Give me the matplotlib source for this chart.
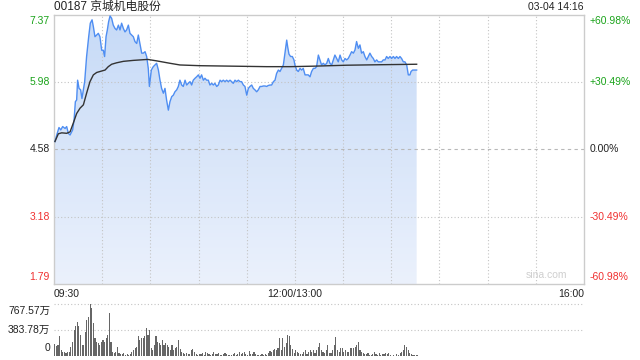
import numpy as np
import matplotlib

matplotlib.use("Agg")
import matplotlib.pyplot as plt
from matplotlib.colors import LinearSegmentedColormap
from matplotlib.transforms import offset_copy

plt.rcParams["font.family"] = ["Liberation Sans", "Noto Sans CJK SC", "DejaVu Sans"]

TITLE = "00187 京城机电股份"
STAMP = "03-04 14:16"
PREV_CLOSE = 4.58

# minutes since 09:30 (trading time, lunch break removed) and price
price_min = [0.6, 1.7, 3.1, 4.2, 5.4, 6.9, 7.9, 8.9, 10.0, 11.6, 12.5, 13.3, 14.1, 14.7, 15.6,
             16.6, 17.4, 18.3, 19.1, 20.3, 21.6, 22.6, 23.7, 24.5, 25.5, 26.6, 27.6, 28.6, 29.7,
             30.7, 31.5, 32.4, 33.2, 34.0, 34.9, 35.9, 36.9, 38.0, 39.0, 40.1, 41.1, 42.1, 43.2,
             44.2, 45.2, 46.3, 47.3, 48.4, 49.4, 50.4, 51.5, 52.5, 53.5, 54.6, 55.6, 56.7, 57.7,
             58.7, 59.4, 60.6, 61.8, 63.9, 65.0, 66.0, 67.0, 68.1, 69.1, 70.1, 71.2, 72.2, 73.3,
             74.3, 75.3, 76.4, 77.4, 78.4, 79.5, 80.5, 81.6, 82.6, 83.6, 84.7, 85.7, 86.7, 87.8,
             88.8, 89.9, 90.9, 91.9, 93.0, 94.0, 95.0, 96.1, 97.1, 98.2, 99.2, 100.2, 101.3, 102.3,
             103.4, 104.4, 105.4, 106.5, 107.5, 108.5, 109.6, 110.6, 111.6, 112.7, 113.7, 114.8,
             115.8, 116.8, 117.9, 118.9, 120.0, 121.0, 122.0, 123.1, 124.1, 125.1, 126.2, 127.2,
             128.3, 129.3, 130.3, 131.4, 132.4, 133.4, 134.5, 135.5, 136.6, 137.6, 138.6, 139.7,
             140.7, 141.7, 142.8, 143.8, 144.9, 145.5, 146.3, 147.3, 148.4, 149.4, 150.0, 151.1,
             152.1, 153.2, 154.2, 155.2, 156.3, 157.3, 158.3, 159.4, 160.4, 161.5, 162.5, 163.5,
             164.6, 165.6, 166.6, 167.7, 168.7, 169.8, 170.8, 171.8, 172.9, 173.9, 174.9, 176.0,
             177.0, 178.1, 179.1, 180.1, 181.2, 182.2, 183.2, 184.3, 185.3, 186.4, 187.4, 188.4,
             189.5, 190.5, 191.5, 192.6, 193.6, 194.7, 195.7, 196.7, 197.8, 198.8, 199.8, 200.9,
             201.9, 202.9, 204.0, 205.0, 206.1, 207.1, 208.1, 209.2, 210.2, 211.3, 212.3, 213.3,
             214.4, 215.4, 216.4, 217.5, 218.5, 219.6, 220.6, 221.6, 222.3, 223.3, 224.7, 225.8]
price = [4.74, 4.875, 5.03, 4.98, 5.05, 5.01, 5.05, 4.91, 4.875, 4.98, 5.19, 5.565, 5.60, 6.01, 5.84,
         5.81, 5.63, 5.81, 5.98, 6.50, 6.91, 7.19, 7.26, 7.12, 6.91, 6.945, 6.98, 6.91, 6.63,
         6.63, 6.50, 6.91, 7.05, 7.22, 7.34, 7.29, 7.15, 7.08, 7.05, 7.15, 7.05, 7.19, 7.08,
         7.01, 7.05, 7.15, 6.98, 6.945, 6.91, 6.81, 6.77, 6.945, 6.77, 6.57, 6.57, 6.60, 6.50,
         6.255, 5.88, 6.22, 6.29, 6.36, 6.22, 6.01, 5.84, 5.74, 5.84, 5.60, 5.39, 5.565, 5.67,
         5.70, 5.77, 5.81, 5.88, 6.01, 5.91, 5.88, 6.01, 5.91, 5.945, 5.98, 5.91, 6.01, 6.05,
         6.08, 6.12, 6.05, 6.12, 6.01, 6.05, 6.01, 6.01, 5.91, 5.945, 5.91, 5.945, 5.88, 5.91,
         6.01, 5.98, 6.01, 5.98, 6.01, 5.98, 6.01, 5.98, 5.945, 6.01, 5.98, 6.01,
         5.98, 5.98, 5.91, 5.88, 5.70, 5.84, 5.88, 5.91, 5.84, 5.81, 5.77, 5.81,
         5.88, 5.88, 5.89, 5.89, 5.88, 5.90, 5.91, 5.91, 5.98, 6.01, 6.15, 6.22,
         6.19, 6.255, 6.325, 6.57, 6.84, 6.70, 6.55, 6.50, 6.50, 6.43, 6.325, 6.22,
         6.19, 6.255, 6.22, 6.255, 6.12, 6.12, 6.12, 6.08, 6.19, 6.255, 6.255, 6.29,
         6.53, 6.43, 6.325, 6.36, 6.325, 6.36, 6.46, 6.36, 6.325, 6.43, 6.53, 6.46,
         6.39, 6.53, 6.43, 6.39, 6.46, 6.43, 6.46, 6.53, 6.60, 6.57, 6.635, 6.81,
         6.67, 6.74, 6.57, 6.60, 6.50, 6.43, 6.50, 6.57, 6.50, 6.46, 6.39, 6.43,
         6.39, 6.39, 6.39, 6.43, 6.43, 6.50, 6.46, 6.50, 6.46, 6.50, 6.46, 6.50,
         6.46, 6.50, 6.46, 6.39, 6.39, 6.325, 6.12, 6.12, 6.19, 6.22, 6.22, 6.22]

# average price line
avg_min = [0.6, 2.7, 4.8, 7.9, 10.0, 12.0, 14.1, 16.2, 18.3, 20.3, 22.4, 24.5, 26.6, 29.7, 31.8,
           33.8, 35.9, 39.0, 43.2, 49.4, 58.3, 63.9, 72.2, 78.4, 90.9, 111.6, 132.4, 146.9,
           161.5, 182.2, 203.0, 225.8]
avg_price = [4.74, 4.90, 4.92, 4.91, 4.94, 5.12, 5.32, 5.43, 5.50, 5.74, 5.98, 6.12, 6.17, 6.20,
             6.22, 6.29, 6.34, 6.37, 6.40, 6.42, 6.44, 6.41, 6.36, 6.325, 6.31, 6.30, 6.29, 6.29,
             6.30, 6.32, 6.33, 6.34]

# volume per minute (万股)
volume = [178, 150, 160, 300, 90, 60, 60, 50, 60, 60, 140, 215, 390, 440, 510, 440, 310, 165, 170,
          360, 540, 585, 767.57, 710, 490, 265, 215, 190, 165, 215, 240, 215, 260, 310, 640, 215,
          65, 40, 65, 140, 40, 30, 25, 45, 20, 30, 15, 35, 65, 90, 115, 140, 290, 240, 260, 260,
          290, 415, 310, 390, 115, 90, 165, 290, 215, 190, 165, 240, 165, 190, 165, 140, 90, 165,
          90, 120, 140, 240, 110,
          60, 40, 30, 45, 25, 35, 90, 110, 60, 30, 20, 35, 25, 40, 20, 55, 45, 30, 20, 35, 60,
          25, 30, 45, 20, 15, 30, 50, 25, 20, 10, 15, 25, 40, 15, 30, 55, 25, 40, 60, 30, 20,
          70, 35, 25, 55, 30, 15, 20, 10, 25, 15, 30, 20, 45, 70, 60, 90, 110,
          90, 115, 265, 90, 265, 140, 190, 310, 290, 160, 110, 40, 90, 60, 40, 25, 30, 60, 90,
          25, 55, 89, 64, 89, 40, 89, 139, 188, 89, 64, 40, 89, 164, 40, 40, 89, 164, 288, 89,
          64, 114, 114, 64, 89, 64, 64, 114, 114, 114, 139, 164, 203, 89, 64, 40, 25, 25, 40,
          15, 15, 25, 64, 25, 15, 40, 15, 25, 25, 40, 25, 40, 15, 5, 15, 5, 25, 15, 40, 64, 89,
          164, 139, 89, 40, 25, 15, 10, 10, 10]

VOL_MAX = 767.57
y_ticks = [7.37, 5.98, 4.58, 3.18, 1.79]
pct_labels = ["+60.98%", "+30.49%", "0.00%", "-30.49%", "-60.98%"]
GREEN = "#1aa31a"
RED = "#f03030"
tick_colors = [GREEN, GREEN, "#222222", RED, RED]

W, H = 640, 360
fig = plt.figure(figsize=(6.4, 3.6), dpi=100)
ax = fig.add_axes([54 / W, 1 - 284 / H, 530 / W, 269.5 / H])
axv = fig.add_axes([54 / W, 1 - 356 / H, 530 / W, 51.7 / H])

# gradient area under the price line
cmap = LinearSegmentedColormap.from_list("fill", ["#ebf1fc", "#c6daf7"])
poly = ax.fill_between(price_min, price, y_ticks[-1], color="none", linewidth=0)
grad = np.linspace(0, 1, 256).reshape(-1, 1)
img = ax.imshow(grad, extent=[0, 330, y_ticks[-1], y_ticks[0]], origin="lower",
                aspect="auto", cmap=cmap, zorder=1)
img.set_clip_path(poly.get_paths()[0], transform=ax.transData)

ax.plot(price_min, price, color="#4f8ef2", lw=1.0, zorder=3)
ax.plot(avg_min, avg_price, color="#333333", lw=1.0, zorder=4)

ax.set_xlim(0, 330)
ax.set_ylim(y_ticks[-1], y_ticks[0])
ax.set_xticks([])
ax.set_yticks([])
for s in ax.spines.values():
    s.set_color("#cccccc")
    s.set_linewidth(1.0)

for m in range(30, 330, 30):
    ax.axvline(m, color="#c4c4c4", lw=0.8, ls=(0, (1, 2)), zorder=2)
for v in y_ticks[1:-1]:
    ls = (0, (3, 3)) if v == PREV_CLOSE else (0, (1, 2))
    col = "#b8b8b8" if v == PREV_CLOSE else "#c4c4c4"
    ax.axhline(v, color=col, lw=0.8, ls=ls, zorder=2)

# axis labels (edge labels pushed inward like the original)
for i, (v, pl, c) in enumerate(zip(y_ticks, pct_labels, tick_colors)):
    dy = -6 if i == 0 else (7 if i == len(y_ticks) - 1 else 0)
    tl = offset_copy(ax.get_yaxis_transform(), fig=fig, x=-4, y=dy, units="dots")
    ax.text(0, v, f"{v:.2f}", transform=tl, ha="right", va="center", fontsize=7.5, color=c)
    tr = offset_copy(ax.get_yaxis_transform(), fig=fig, x=6, y=dy, units="dots")
    ax.text(1, v, pl, transform=tr, ha="left", va="center", fontsize=7.5, color=c)

tx = offset_copy(ax.get_xaxis_transform(), fig=fig, x=0, y=-10, units="dots")
ax.text(0, 0, "09:30", transform=tx, ha="left", va="center", fontsize=7.5, color="#222222")
ax.text(150, 0, "12:00/13:00", transform=tx, ha="center", va="center", fontsize=7.5, color="#222222")
ax.text(330, 0, "16:00", transform=tx, ha="right", va="center", fontsize=7.5, color="#222222")

ax.text(0.93, 0.015, "sina.com", transform=ax.transAxes, ha="center", va="bottom",
        fontsize=7.5, color="#cfcfcf")

fig.text(54 / W, 1 - 7 / H, TITLE, ha="left", va="center", fontsize=8.5, color="#222222")
fig.text(584 / W, 1 - 7 / H, STAMP, ha="right", va="center", fontsize=7.5, color="#222222")

# volume panel
axv.bar(np.arange(len(volume)) + 0.5, volume, width=0.7, color="#666666", zorder=2)
axv.set_xlim(0, 330)
axv.set_ylim(0, VOL_MAX)
axv.set_xticks([])
axv.set_yticks([])
for s in axv.spines.values():
    s.set_visible(False)
for v in (VOL_MAX / 2, VOL_MAX):
    axv.axhline(v, color="#c4c4c4", lw=0.8, ls=(0, (1, 2)), zorder=0.5, clip_on=False)

vol_ticks = [VOL_MAX, VOL_MAX / 2, 0]
vol_labels = ["767.57万", "383.78万", "0"]
for v, lab, dy in zip(vol_ticks, vol_labels, [-7, 0, 8]):
    tv = offset_copy(axv.get_yaxis_transform(), fig=fig, x=-4, y=dy, units="dots")
    axv.text(0, v, lab, transform=tv, ha="right", va="center", fontsize=7.5, color="#222222")

fig.savefig("out.png", dpi=100)
